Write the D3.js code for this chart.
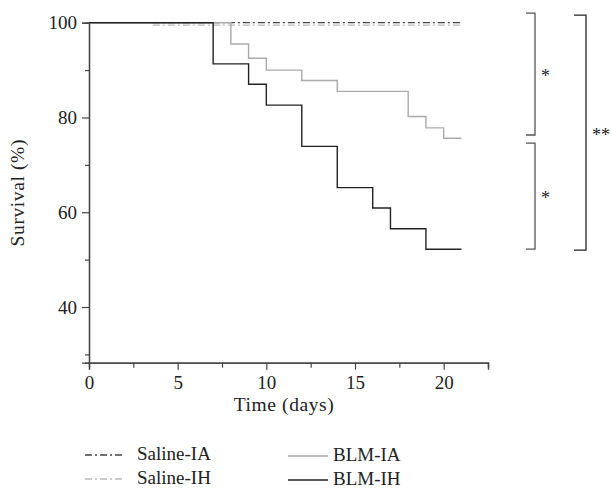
<!DOCTYPE html>
<html><head><meta charset="utf-8">
<script src="https://cdn.jsdelivr.net/npm/d3@7"></script>
<style>body{margin:0;background:#fff}svg{display:block}text{font-family:"Liberation Serif","DejaVu Serif",serif;fill:#222}</style>
</head><body><svg id="c" width="611" height="488"></svg>
<script>
const seriesNames = ["Saline-IA","Saline-IH","BLM-IA","BLM-IH"];
const salineIATimes = [3.6, 21];
const salineIAValues = [100, 100];
const salineIHTimes = [3.6, 21];
const salineIHValues = [99.5, 99.5];
const blmIATimes = [0, 8, 9, 10, 12, 14, 18, 19, 20, 21];
const blmIAValues = [100, 95.5, 92.5, 90.0, 87.8, 85.5, 80.2, 77.8, 75.6, 75.6];
const blmIHTimes = [0, 7, 9, 10, 12, 14, 16, 17, 19, 21];
const blmIHValues = [100, 91.3, 87.0, 82.6, 73.9, 65.2, 60.9, 56.5, 52.2, 52.2];
const xTicks = [0, 5, 10, 15, 20];
const xMinorTicks = [2.5, 7.5, 12.5, 17.5, 22.5];
const yTicks = [40, 60, 80, 100];
const yMinorTicks = [30, 50, 70, 90];
const brackets = [
  {top: 102, bottom: 76.3, label: "*"},
  {top: 74.6, bottom: 52.2, label: "*"},
  {top: 101.6, bottom: 52.0, label: "**"}
];

const svg = d3.select("#c");
const y = d3.scaleLinear().domain([40, 100]).range([307, 22.7]);
const yBottom = y.invert(362.7);
y.domain([yBottom, 100]).range([362.7, 22.7]);
const x = d3.scaleLinear().domain([0, 22.5]).range([89, 488]);

// axes
const gx = svg.append("g").attr("transform", `translate(0,${y(yBottom)})`);
gx.call(d3.axisBottom(x).tickValues(xTicks).tickSize(7).tickPadding(6).tickFormat(d3.format("d")));
gx.append("g").call(d3.axisBottom(x).tickValues(xMinorTicks).tickSize(5).tickFormat(""));
const gy = svg.append("g").attr("transform", `translate(${x(0)},0)`);
gy.call(d3.axisLeft(y).tickValues(yTicks).tickSize(7).tickPadding(5).tickFormat(d3.format("d")));
gy.append("g").call(d3.axisLeft(y).tickValues(yMinorTicks).tickSize(4).tickFormat(""));
svg.selectAll(".domain").attr("stroke", "#444").attr("stroke-width", 1.3);
svg.selectAll(".tick line").attr("stroke", "#444").attr("stroke-width", 1.2);
svg.selectAll(".tick text").style("font-size", "19px").attr("fill", "#222");

svg.append("text").attr("x", x(11)).attr("y", 411).attr("text-anchor", "middle")
  .style("font-size", "19.5px").style("letter-spacing", "0.6px").text("Time (days)");
svg.append("text").attr("transform", `translate(24,${(y(100)+y(yBottom))/2}) rotate(-90)`)
  .attr("text-anchor", "middle").style("font-size", "19.5px").style("letter-spacing", "0.6px").text("Survival (%)");

const line = d3.line().x(d => x(d[0])).y(d => y(d[1])).curve(d3.curveStepAfter);
const zip = (t, v) => t.map((d, i) => [d, v[i]]);
const styles = {
  "Saline-IA": {color: "#444", dash: "7,3,2,3", w: 1.3},
  "Saline-IH": {color: "#bbb", dash: "7,3,2,3", w: 1.3},
  "BLM-IA": {color: "#aaa", dash: null, w: 1.4},
  "BLM-IH": {color: "#222", dash: null, w: 1.4}
};
const data = {
  "Saline-IA": zip(salineIATimes, salineIAValues),
  "Saline-IH": zip(salineIHTimes, salineIHValues),
  "BLM-IA": zip(blmIATimes, blmIAValues),
  "BLM-IH": zip(blmIHTimes, blmIHValues)
};
["Saline-IH", "Saline-IA", "BLM-IA", "BLM-IH"].forEach(n => {
  svg.append("path").datum(data[n]).attr("d", line).attr("fill", "none")
    .attr("stroke", styles[n].color).attr("stroke-width", styles[n].w)
    .attr("stroke-dasharray", styles[n].dash);
});

// brackets
const bx = [535, 535, 586];
brackets.forEach((b, i) => {
  const xr = bx[i], xl = xr - (i < 2 ? 9 : 12);
  svg.append("path").attr("d", `M${xl},${y(b.top)}H${xr}V${y(b.bottom)}H${xl}`)
    .attr("fill", "none").attr("stroke", i < 2 ? "#555" : "#222").attr("stroke-width", 1.3);
  svg.append("text").attr("x", xr + 6).attr("y", (y(b.top) + y(b.bottom)) / 2 + 8)
    .style("font-size", "18px").text(b.label);
});

// legend
const legendPos = [
  {n: "Saline-IA", x: 85, y: 455}, {n: "Saline-IH", x: 85, y: 479},
  {n: "BLM-IA", x: 288, y: 456}, {n: "BLM-IH", x: 288, y: 480}
];
legendPos.forEach(p => {
  const s = styles[p.n];
  svg.append("line").attr("x1", p.x).attr("x2", p.x + 40).attr("y1", p.y).attr("y2", p.y)
    .attr("stroke", s.color).attr("stroke-width", s.w).attr("stroke-dasharray", s.dash);
  svg.append("text").attr("x", p.x + (p.n.startsWith("S") ? 52 : 45)).attr("y", p.y + 5)
    .style("font-size", "19px").text(p.n);
});
</script></body></html>
